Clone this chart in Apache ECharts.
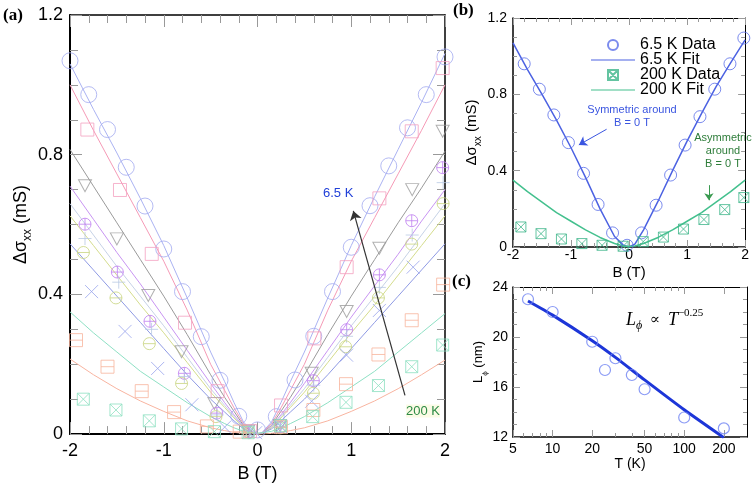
<!DOCTYPE html>
<html><head><meta charset="utf-8">
<script src="https://cdn.jsdelivr.net/npm/echarts@6/dist/echarts.min.js"></script>
<style>html,body{margin:0;padding:0;background:#fff}#c{width:752px;height:488px}</style>
</head><body><div id="c"></div>
<script>
// ---------------- Panel (a): fits ----------------
const fitB = [-2,-1.75,-1.5,-1.25,-1,-0.75,-0.5,-0.35,-0.25,-0.15,-0.05,0,0.05,0.15,0.25,0.35,0.5,0.75,1,1.25,1.5,1.75,2];
const fit65  = [1.06,0.93,0.805,0.675,0.54,0.39,0.235,0.15,0.09,0.035,0.005,0,0.005,0.035,0.09,0.15,0.235,0.39,0.54,0.68,0.815,0.95,1.09];
const fit10  = [1.0,0.87,0.745,0.62,0.495,0.355,0.2,0.125,0.075,0.03,0.004,0,0.004,0.03,0.075,0.125,0.2,0.355,0.495,0.62,0.745,0.87,1.0];
const fit20  = [0.815,0.71,0.605,0.5,0.395,0.285,0.17,0.105,0.065,0.025,0.003,0,0.003,0.025,0.065,0.105,0.17,0.285,0.395,0.5,0.605,0.705,0.81];
const fit25  = [0.71,0.615,0.52,0.43,0.335,0.24,0.145,0.09,0.055,0.022,0.003,0,0.003,0.022,0.055,0.09,0.145,0.24,0.335,0.425,0.515,0.61,0.70];
const fit30  = [0.66,0.57,0.48,0.395,0.31,0.22,0.13,0.082,0.05,0.02,0.003,0,0.003,0.02,0.05,0.082,0.13,0.22,0.31,0.395,0.48,0.57,0.66];
const fit40  = [0.625,0.54,0.455,0.37,0.29,0.205,0.12,0.076,0.046,0.018,0.002,0,0.002,0.018,0.046,0.076,0.12,0.205,0.29,0.37,0.455,0.54,0.625];
const fit50  = [0.545,0.47,0.395,0.32,0.245,0.17,0.1,0.063,0.038,0.015,0.002,0,0.002,0.015,0.038,0.063,0.1,0.17,0.245,0.32,0.395,0.47,0.545];
const fit100 = [0.215,0.17,0.13,0.095,0.065,0.038,0.018,0.01,0.005,0.002,0,0,0,0.002,0.005,0.01,0.018,0.038,0.065,0.095,0.13,0.17,0.212];
const fit200 = [0.35,0.29,0.235,0.18,0.135,0.09,0.05,0.03,0.018,0.008,0.004,0.003,0.004,0.008,0.018,0.03,0.05,0.09,0.135,0.18,0.235,0.29,0.345];

// ---------------- Panel (a): data ----------------
const b65 = [-2,-1.8,-1.6,-1.4,-1.2,-1,-0.8,-0.6,-0.4,-0.2,0,0.2,0.4,0.6,0.8,1.0,1.2,1.4,1.6,1.8,2.0];
const v65 = [1.069,0.972,0.872,0.764,0.653,0.53,0.408,0.279,0.154,0.051,0.012,0.05,0.155,0.28,0.408,0.535,0.654,0.768,0.877,0.972,1.08];
const b10 = [-1.815,-1.467,-1.128,-0.773,-0.425,-0.08,0.251,0.606,0.951,1.30,1.645,1.975];
const v10 = [0.872,0.699,0.516,0.319,0.123,0.009,0.082,0.274,0.478,0.675,0.867,1.048];
const b20 = [-1.84,-1.50,-1.165,-0.81,-0.46,-0.1,0.24,0.578,0.951,1.30,1.65,1.975];
const v20 = [0.711,0.559,0.397,0.236,0.088,0.008,0.025,0.174,0.351,0.532,0.70,0.867];
const b25 = [-1.84,-1.495,-1.147,-0.78,-0.435,-0.09,0.245,0.596,0.951,1.30,1.645,1.975];
const v25 = [0.601,0.464,0.323,0.174,0.06,0.006,0.02,0.153,0.299,0.456,0.611,0.763];
const b30 = [-1.84,-1.48,-1.13,-0.78,-0.43,-0.08,0.25,0.6,0.95,1.3,1.65,1.98];
const v30 = [0.56,0.435,0.30,0.165,0.055,0.005,0.02,0.14,0.28,0.42,0.57,0.72];
const b40 = [-1.857,-1.51,-1.154,-0.81,-0.443,-0.09,0.245,0.596,0.94,1.29,1.645,1.98];
const v40 = [0.52,0.39,0.259,0.145,0.05,0.005,0.018,0.117,0.25,0.39,0.544,0.66];
const b50 = [-1.77,-1.413,-1.065,-0.70,-0.35,-0.02,0.25,0.578,0.95,1.3,1.66];
const v50 = [0.408,0.294,0.188,0.084,0.02,0.004,0.02,0.094,0.226,0.354,0.478];
const b100 = [-1.936,-1.6,-1.235,-0.89,-0.54,-0.19,0.25,0.596,0.944,1.29,1.645,1.98];
const v100 = [0.269,0.193,0.123,0.063,0.022,0.007,0.02,0.069,0.143,0.228,0.326,0.428];
const b200 = [-1.858,-1.51,-1.154,-0.81,-0.46,-0.1,0.244,0.589,0.944,1.29,1.645,1.975];
const v200 = [0.10,0.069,0.038,0.015,0.007,0.004,0.024,0.05,0.091,0.139,0.193,0.255];

// ---------------- Panel (b) ----------------
const bB65 = [-1.807,-1.546,-1.296,-1.045,-0.784,-0.534,-0.284,-0.034,0.216,0.466,0.716,0.966,1.222,1.477,1.739,1.978];
const vB65 = [0.96,0.827,0.692,0.547,0.386,0.223,0.074,0.009,0.074,0.219,0.377,0.534,0.683,0.827,0.96,1.095];
const bB200 = [-1.864,-1.517,-1.165,-0.813,-0.465,-0.102,0.244,0.592,0.938,1.29,1.649,1.978];
const vB200 = [0.105,0.07,0.042,0.018,0.009,0.004,0.028,0.052,0.094,0.144,0.196,0.259];
const fitBb = [-2,-1.75,-1.5,-1.25,-1,-0.75,-0.5,-0.25,-0.1,0,0.1,0.25,0.5,0.75,1,1.25,1.5,1.75,2];
const fitB65 = [1.07,0.93,0.80,0.665,0.52,0.365,0.20,0.055,0.01,0,0.015,0.09,0.24,0.40,0.555,0.70,0.84,0.965,1.085];
const fitB200 = [0.35,0.29,0.235,0.18,0.135,0.09,0.05,0.018,0.005,0.002,0.005,0.018,0.05,0.09,0.135,0.18,0.235,0.29,0.35];

// ---------------- Panel (c) ----------------
const tempK = [6.5,10,20,25,30,40,50,100,200];
const lphi  = [23.02,22.0,19.62,17.36,18.3,16.96,15.82,13.56,12.69];
const fitT  = [6.5,10,20,30,50,100,200];
const fitL  = [22.88,21.75,19.7,18.37,16.57,14.18,11.95];
const cMajor = [5,10,20,50,100,200];
const cMinor = [6,7,8,9,30,40,60,70,80,90];

const FONT = 'Liberation Sans, Arial, sans-serif';
const pairs = (xs, ys) => xs.map((x, i) => [x, ys[i]]);

const CIR = 'M10,0 A10,10 0 1,1 10,20 A10,10 0 1,1 10,0 Z';
const SQ = 'M0,0 L20,0 L20,20 L0,20 Z';
const SYM = {
  circle: 'path://' + CIR,
  square: 'path://' + SQ,
  tri: 'path://M0,0 L20,0 L10,18 Z',
  cplus: 'path://' + CIR + ' M0,10 L20,10 M10,0 L10,20',
  plus: 'path://M10,0 L10,20 M0,10 L20,10',
  cminus: 'path://' + CIR + ' M0,10 L20,10',
  x: 'path://M0,0 L20,20 M20,0 L0,20',
  sminus: 'path://' + SQ + ' M0,10 L20,10',
  sx: 'path://' + SQ + ' M0,0 L20,20 M20,0 L0,20'
};
const LINEICON = 'path://M0,0 L60,0 L60,1.6 L0,1.6 Z';

function axis(p) {
  const a = {
    type: p.type || 'value', gridIndex: p.grid, position: p.pos,
    min: p.min, max: p.max,
    axisLine: {show: p.line !== false, onZero: false, lineStyle: {color: '#000', width: p.lw || 1.5}},
    splitLine: {show: false},
    axisTick: {show: true, inside: true, length: p.tl || 8, lineStyle: {color: p.tc || '#999', width: 1}},
    minorTick: {show: !!p.ms, splitNumber: p.ms || 5, length: p.ml || 5, lineStyle: {color: p.tc || '#999', width: 1}},
    axisLabel: {show: !!p.fs, fontSize: p.fs || 12, color: '#000', margin: p.mg || 6, fontFamily: FONT},
    silent: true
  };
  if (p.interval != null) a.interval = p.interval;
  if (p.logBase) a.logBase = p.logBase;
  if (p.ticks) a.axisTick.customValues = p.ticks;
  if (p.labels) { a.axisLabel.customValues = p.labels; a.axisLabel.formatter = v => String(v); }
  if (p.name) { a.name = p.name; a.nameLocation = 'middle'; a.nameGap = p.ng; a.nameTextStyle = p.nts; }
  return a;
}

const xAxes = [
  axis({grid:0,pos:'bottom',min:-2,max:2,interval:1,lw:2,tl:12,ms:5,ml:8,fs:18,mg:8,
        name:'B (T)',ng:30,nts:{fontSize:18,color:'#000',fontFamily:FONT}}),
  axis({grid:0,pos:'top',min:-2,max:2,interval:1,lw:1.5,tl:12,ms:5,ml:8}),
  axis({grid:1,pos:'bottom',min:-2,max:2,interval:1,lw:1.5,tl:7,ms:5,ml:4,fs:14,mg:1,
        name:'B (T)',ng:18,nts:{fontSize:15,color:'#000',fontFamily:FONT}}),
  axis({grid:1,pos:'top',min:-2,max:2,interval:1,lw:1,tl:7,ms:5,ml:4}),
  axis({grid:2,pos:'bottom',type:'log',logBase:10,min:5,max:300,lw:1.5,tl:7,fs:14,mg:5,ticks:cMajor,labels:cMajor,
        name:'T (K)',ng:18,nts:{fontSize:14,color:'#000',fontFamily:FONT}}),
  axis({grid:2,pos:'bottom',type:'log',logBase:10,min:5,max:300,line:false,tl:4,ticks:cMinor}),
  axis({grid:2,pos:'top',type:'log',logBase:10,min:5,max:300,lw:1,tl:7,ticks:cMajor}),
  axis({grid:2,pos:'top',type:'log',logBase:10,min:5,max:300,line:false,tl:4,ticks:cMinor})
];

const subRich = (fs) => ({m:{fontSize:fs,lineHeight:fs+8,fontFamily:FONT,color:'#000'},
                          s:{fontSize:Math.round(fs*0.65),lineHeight:Math.round(fs*0.65),verticalAlign:'bottom',fontFamily:FONT,color:'#000'}});
const yAxes = [
  axis({grid:0,pos:'left',min:0,max:1.2,interval:0.4,lw:2,tl:12,ms:4,ml:8,fs:18,mg:7,
        name:'{m|Δσ}{s|xx}{m| (mS)}',ng:34,nts:{rich:subRich(18)}}),
  axis({grid:0,pos:'right',min:0,max:1.2,interval:0.4,lw:1.5,tl:12,ms:4,ml:8}),
  axis({grid:1,pos:'left',min:0,max:1.2,interval:0.4,lw:1.5,tl:7,ms:4,ml:4,fs:14,mg:6,
        name:'{m|Δσ}{s|xx}{m| (mS)}',ng:22,nts:{rich:subRich(15)}}),
  axis({grid:1,pos:'right',min:0,max:1.2,interval:0.4,lw:1,tl:7,ms:4,ml:4}),
  axis({grid:2,pos:'left',min:12,max:24,interval:4,lw:1.5,tl:7,ms:4,ml:4,fs:14,mg:5,
        name:'{m|L}{s|ϕ}{m| (nm)}',ng:22,nts:{rich:subRich(13)}}),
  axis({grid:2,pos:'right',min:12,max:24,interval:4,lw:1,tl:7,ms:4,ml:4})
];

const panelA = [
  {fit:fit65, b:b65, v:v65, lc:'#aab2f2', mc:'#a2aaf0', sym:SYM.circle, size:16},
  {fit:fit10, b:b10, v:v10, lc:'#f59ab6', mc:'#f4a0c0', sym:SYM.square, size:13},
  {fit:fit20, b:b20, v:v20, lc:'#9a9a9a', mc:'#9c9c9c', sym:SYM.tri, size:[13,12]},
  {fit:fit25, b:b25, v:v25, lc:'#c894f2', mc:'#bf80f0', sym:SYM.cplus, size:12},
  {fit:fit30, b:b30, v:v30, lc:'#c6d2e6', mc:'#b8c8e4', sym:SYM.plus, size:13},
  {fit:fit40, b:b40, v:v40, lc:'#d4dc8c', mc:'#c8d480', sym:SYM.cminus, size:12},
  {fit:fit50, b:b50, v:v50, lc:'#8f9ae4', mc:'#98a4ec', sym:SYM.x, size:13},
  {fit:fit100, b:b100, v:v100, lc:'#f8b4a0', mc:'#f8b49c', sym:SYM.sminus, size:13},
  {fit:fit200, b:b200, v:v200, lc:'#8ee0c4', mc:'#8ce0c0', sym:SYM.sx, size:12}
];

const series = [];
panelA.forEach((s, i) => {
  const line = {type:'line', xAxisIndex:0, yAxisIndex:0, data:pairs(fitB, s.fit), symbol:'none',
    smooth:false, lineStyle:{color:s.lc, width:1}, z:2, silent:true};
  if (i === 0) {
    line.markLine = {silent:true, symbol:['none','arrow'], symbolSize:9, label:{show:false},
      lineStyle:{color:'#333', width:1.2, type:'solid'}, emphasis:{disabled:true},
      data:[[{coord:[1.573,0.111]},{coord:[1.022,0.639]}]]};
  }
  series.push(line);
  series.push({type:'scatter', xAxisIndex:0, yAxisIndex:0, data:pairs(s.b, s.v), symbol:s.sym, symbolSize:s.size,
    itemStyle:{color:'rgba(0,0,0,0)', borderColor:s.mc, borderWidth:1}, z:3, silent:true});
});

// panel b
const C65 = '#4c62e2', C200 = '#44c08e';
series.push({name:'6.5 K Data', type:'scatter', xAxisIndex:2, yAxisIndex:2, data:pairs(bB65, vB65), symbol:SYM.circle,
  symbolSize:12, itemStyle:{color:'rgba(0,0,0,0)', borderColor:'#5a6ee8', borderWidth:1}, z:4, silent:true});
series.push({name:'6.5 K Fit', type:'line', xAxisIndex:2, yAxisIndex:2, data:pairs(fitBb, fitB65), symbol:'none',
  smooth:false, lineStyle:{color:C65, width:1.5}, itemStyle:{color:C65, borderColor:C65}, z:3, silent:true,
  markLine:{silent:true, symbol:['none','arrow'], symbolSize:8, label:{show:false}, emphasis:{disabled:true},
    lineStyle:{color:'#3a55e0', width:1, type:'solid'},
    data:[[{coord:[-0.387,0.617]},{coord:[-0.865,0.535]}]]}});
series.push({name:'200 K Data', type:'scatter', xAxisIndex:2, yAxisIndex:2, data:pairs(bB200, vB200), symbol:SYM.sx,
  symbolSize:10, itemStyle:{color:'rgba(0,0,0,0)', borderColor:'#3db58a', borderWidth:1}, z:4, silent:true});
series.push({name:'200 K Fit', type:'line', xAxisIndex:2, yAxisIndex:2, data:pairs(fitBb, fitB200), symbol:'none',
  smooth:false, lineStyle:{color:C200, width:1.5}, itemStyle:{color:C200, borderColor:C200}, z:3, silent:true,
  markLine:{silent:true, symbol:['none','arrow'], symbolSize:7, label:{show:false}, emphasis:{disabled:true},
    lineStyle:{color:'#3a9a50', width:1, type:'solid'},
    data:[[{coord:[1.376,0.324]},{coord:[1.376,0.245]}]]}});

// panel c
series.push({type:'line', xAxisIndex:4, yAxisIndex:4, data:pairs(fitT, fitL), symbol:'none', smooth:0.2,
  lineStyle:{color:'#1d36d8', width:3}, z:3, silent:true});
series.push({type:'scatter', xAxisIndex:4, yAxisIndex:4, data:pairs(tempK, lphi), symbol:SYM.circle, symbolSize:11,
  itemStyle:{color:'rgba(0,0,0,0)', borderColor:'#6e82f2', borderWidth:1.2}, z:4, silent:true});

const ctext = (x, y, t, st) => ({type:'text', x:x, y:y, silent:true,
  style:Object.assign({text:t, fontFamily:FONT, fill:'#000', fontSize:11, align:'center', verticalAlign:'middle'}, st)});
const ltext = (x, y, t, st) => ({type:'text', x:x, y:y, silent:true,
  style:Object.assign({text:t, fontFamily:FONT, fill:'#000', fontSize:12, align:'left', verticalAlign:'middle'}, st)});
const SERIFB = {fontFamily:'Liberation Serif, serif', fontWeight:'bold', fontSize:17};

const option = {
  animation:false, backgroundColor:'#fff',
  textStyle:{fontFamily:FONT},
  grid:[{left:70,top:15,width:375,height:421},
        {left:513,top:18,width:234,height:229},
        {left:513,top:287,width:234,height:150}],
  xAxis:xAxes, yAxis:yAxes,
  legend:{data:[
      {name:'6.5 K Data'},
      {name:'6.5 K Fit', icon:LINEICON, itemStyle:{color:C65, borderColor:C65, borderWidth:0}},
      {name:'200 K Data'},
      {name:'200 K Fit', icon:LINEICON, itemStyle:{color:C200, borderColor:C200, borderWidth:0}}],
    orient:'vertical', left:586, top:32,
    itemWidth:44, itemHeight:10, itemGap:-1, selectedMode:false, symbolKeepAspect:true,
    textStyle:{fontSize:16, color:'#000', lineHeight:15, fontFamily:FONT}},
  series:series,
  graphic:[
    ltext(3, 16, '(a)', SERIFB),
    ltext(453, 11, '(b)', SERIFB),
    ltext(452, 282, '(c)', SERIFB),
    ltext(323, 193, '6.5 K', {fill:'#2140d8', fontSize:13}),
    ltext(406, 411, '200 K', {fill:'#2e8b45', fontSize:13, backgroundColor:'#fbfbe6'}),
    ctext(632, 110, 'Symmetric around', {fill:'#3a55e0'}),
    ctext(632, 123, 'B = 0 T', {fill:'#3a55e0'}),
    ctext(723, 138, 'Asymmetric', {fill:'#2e7d3a'}),
    ctext(723, 151, 'around', {fill:'#2e7d3a'}),
    ctext(723, 164, 'B = 0 T', {fill:'#2e7d3a'}),
    {type:'text', x:626, y:320, silent:true, style:{
      text:'{i|L}{s|ϕ}{n| ∝ }{i|T}{p|−0.25}', verticalAlign:'middle', align:'left',
      rich:{i:{fontFamily:'Liberation Serif, serif', fontStyle:'italic', fontSize:18, lineHeight:24, fill:'#000'},
            s:{fontFamily:'Liberation Serif, serif', fontStyle:'italic', fontSize:12, lineHeight:12, verticalAlign:'bottom', fill:'#000'},
            n:{fontFamily:'DejaVu Serif, serif', fontSize:15, lineHeight:24, fill:'#000', padding:[0,3,0,3]},
            p:{fontFamily:'Liberation Serif, serif', fontSize:11, lineHeight:11, verticalAlign:'top', fill:'#000'}}}}
  ]
};
const chart = echarts.init(document.getElementById('c'), null, {renderer:'canvas'});
chart.setOption(option);
</script>
</body></html>
